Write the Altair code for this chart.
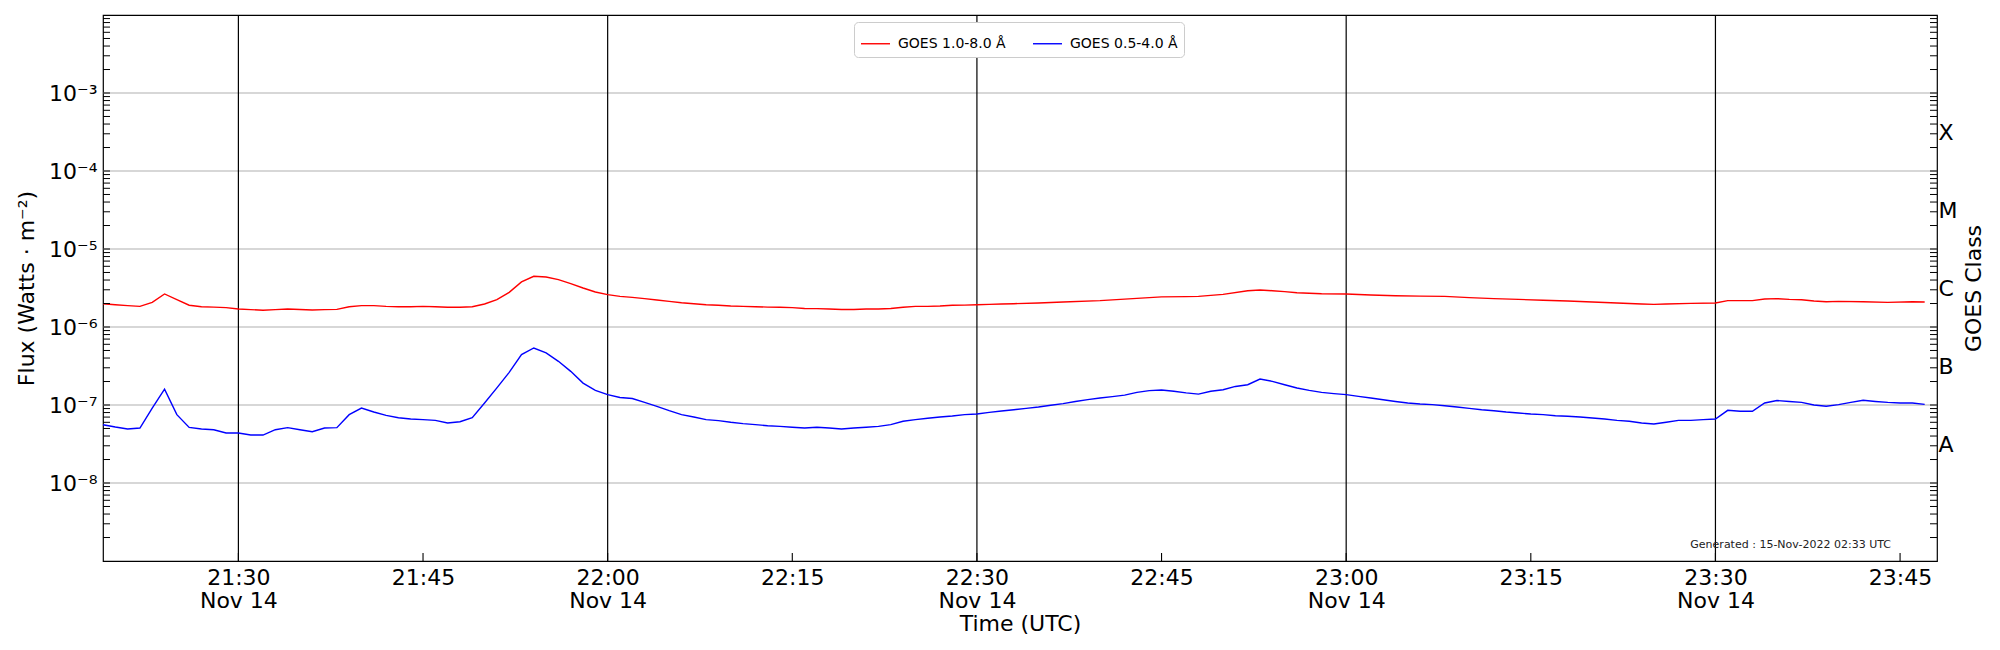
import altair as alt
import pandas as pd

DAY = "2022-11-14"

# GOES 1.0-8.0 A (red), W/m^2
red_times = ["21:19", "21:20", "21:21", "21:22", "21:23", "21:24", "21:25", "21:26", "21:27", "21:28",
             "21:29", "21:30", "21:31", "21:32", "21:33", "21:34", "21:35", "21:36", "21:37", "21:38",
             "21:39", "21:40", "21:41", "21:42", "21:43", "21:44", "21:45", "21:46", "21:47", "21:48",
             "21:49", "21:50", "21:51", "21:52", "21:53", "21:54", "21:55", "21:56", "21:57", "21:58",
             "21:59", "22:00", "22:01", "22:02", "22:03", "22:04", "22:05", "22:06", "22:07", "22:08",
             "22:09", "22:10", "22:11", "22:12", "22:13", "22:14", "22:15", "22:16", "22:17", "22:18",
             "22:19", "22:20", "22:21", "22:22", "22:23", "22:24", "22:25", "22:26", "22:27", "22:28",
             "22:29", "22:30", "22:31", "22:32", "22:33", "22:35", "22:37", "22:40", "22:43", "22:45",
             "22:47", "22:48", "22:50", "22:52", "22:53", "22:54", "22:55", "22:56", "22:58", "23:00",
             "23:02", "23:04", "23:06", "23:08", "23:10", "23:12", "23:14", "23:16", "23:18", "23:20",
             "23:22", "23:24", "23:25", "23:26", "23:28", "23:30", "23:31", "23:33", "23:34", "23:35",
             "23:36", "23:37", "23:38", "23:39", "23:40", "23:42", "23:44", "23:46", "23:47"]
red_flux = [1.99e-6, 1.93e-6, 1.88e-6, 1.84e-6, 2.07e-6, 2.65e-6, 2.24e-6, 1.90e-6, 1.82e-6, 1.80e-6,
            1.77e-6, 1.70e-6, 1.67e-6, 1.64e-6, 1.67e-6, 1.70e-6, 1.68e-6, 1.65e-6, 1.67e-6, 1.68e-6,
            1.82e-6, 1.88e-6, 1.88e-6, 1.84e-6, 1.82e-6, 1.82e-6, 1.84e-6, 1.82e-6, 1.79e-6, 1.79e-6,
            1.82e-6, 1.97e-6, 2.24e-6, 2.78e-6, 3.78e-6, 4.47e-6, 4.38e-6, 4.05e-6, 3.60e-6, 3.16e-6,
            2.81e-6, 2.60e-6, 2.47e-6, 2.40e-6, 2.31e-6, 2.22e-6, 2.13e-6, 2.05e-6, 1.99e-6, 1.93e-6,
            1.90e-6, 1.86e-6, 1.84e-6, 1.82e-6, 1.80e-6, 1.79e-6, 1.77e-6, 1.73e-6, 1.72e-6, 1.70e-6,
            1.68e-6, 1.68e-6, 1.70e-6, 1.70e-6, 1.73e-6, 1.79e-6, 1.84e-6, 1.84e-6, 1.86e-6, 1.90e-6,
            1.91e-6, 1.93e-6, 1.95e-6, 1.97e-6, 1.99e-6, 2.03e-6, 2.09e-6, 2.18e-6, 2.33e-6, 2.43e-6,
            2.45e-6, 2.47e-6, 2.62e-6, 2.92e-6, 2.98e-6, 2.92e-6, 2.84e-6, 2.75e-6, 2.67e-6, 2.65e-6,
            2.57e-6, 2.52e-6, 2.49e-6, 2.47e-6, 2.38e-6, 2.31e-6, 2.26e-6, 2.20e-6, 2.15e-6, 2.09e-6,
            2.03e-6, 1.97e-6, 1.95e-6, 1.97e-6, 2.01e-6, 2.03e-6, 2.18e-6, 2.18e-6, 2.29e-6, 2.31e-6,
            2.26e-6, 2.24e-6, 2.15e-6, 2.11e-6, 2.13e-6, 2.11e-6, 2.07e-6, 2.11e-6, 2.09e-6]

# GOES 0.5-4.0 A (blue), one value per minute from 21:19 to 23:47
blue_start = "21:19"
blue_flux = [5.59e-8, 5.22e-8, 4.92e-8, 5.07e-8, 9.12e-8, 1.60e-7, 7.52e-8, 5.16e-8, 4.92e-8, 4.82e-8,
             4.37e-8, 4.37e-8, 4.12e-8, 4.12e-8, 4.82e-8, 5.13e-8, 4.82e-8, 4.55e-8, 5.07e-8, 5.13e-8,
             7.52e-8, 9.12e-8, 8.13e-8, 7.36e-8, 6.87e-8, 6.61e-8, 6.49e-8, 6.35e-8, 5.87e-8, 6.11e-8,
             6.87e-8, 1.06e-7, 1.66e-7, 2.62e-7, 4.42e-7, 5.38e-7, 4.65e-7, 3.63e-7, 2.70e-7, 1.91e-7,
             1.54e-7, 1.36e-7, 1.25e-7, 1.21e-7, 1.08e-7, 9.62e-8, 8.45e-8, 7.52e-8, 7.01e-8, 6.49e-8,
             6.30e-8, 6.00e-8, 5.77e-8, 5.60e-8, 5.43e-8, 5.32e-8, 5.18e-8, 5.07e-8, 5.18e-8, 5.07e-8,
             4.92e-8, 5.07e-8, 5.18e-8, 5.32e-8, 5.60e-8, 6.18e-8, 6.49e-8, 6.75e-8, 7.01e-8, 7.23e-8,
             7.52e-8, 7.67e-8, 8.05e-8, 8.38e-8, 8.71e-8, 9.06e-8, 9.42e-8, 9.91e-8, 1.04e-7, 1.11e-7,
             1.17e-7, 1.23e-7, 1.28e-7, 1.34e-7, 1.45e-7, 1.53e-7, 1.56e-7, 1.50e-7, 1.43e-7, 1.38e-7,
             1.50e-7, 1.57e-7, 1.73e-7, 1.82e-7, 2.15e-7, 2.01e-7, 1.82e-7, 1.65e-7, 1.54e-7, 1.45e-7,
             1.40e-7, 1.36e-7, 1.29e-7, 1.23e-7, 1.17e-7, 1.11e-7, 1.06e-7, 1.03e-7, 1.01e-7, 9.79e-8,
             9.42e-8, 9.06e-8, 8.71e-8, 8.45e-8, 8.13e-8, 7.89e-8, 7.67e-8, 7.52e-8, 7.29e-8, 7.16e-8,
             7.01e-8, 6.81e-8, 6.62e-8, 6.35e-8, 6.18e-8, 5.87e-8, 5.70e-8, 6.00e-8, 6.35e-8, 6.35e-8,
             6.49e-8, 6.62e-8, 8.55e-8, 8.30e-8, 8.30e-8, 1.06e-7, 1.14e-7, 1.11e-7, 1.08e-7, 1.00e-7,
             9.62e-8, 1.01e-7, 1.08e-7, 1.15e-7, 1.11e-7, 1.08e-7, 1.06e-7, 1.06e-7, 1.02e-7]

series_names = ["GOES 1.0-8.0 \u00c5", "GOES 0.5-4.0 \u00c5"]
series_colors = ["#ff0000", "#0000ff"]

grid_decades = [1e-8, 1e-7, 1e-6, 1e-5, 1e-4, 1e-3]
halfhour_lines = ["21:30", "22:00", "22:30", "23:00", "23:30"]
quarter_ticks = ["21:30", "21:45", "22:00", "22:15", "22:30", "22:45", "23:00", "23:15", "23:30", "23:45"]
class_pos = [3.16e-8, 3.16e-7, 3.16e-6, 3.16e-5, 3.16e-4]
class_labels = ["A", "B", "C", "M", "X"]
generated_text = ["Generated : 15-Nov-2022 02:33 UTC"]

W, H = 1834, 546
FONT = "DejaVu Sans"


def iso(hm):
    return f"{DAY}T{hm}:00Z"


def dt(hm):
    h, m = hm.split(":")
    return alt.DateTime(year=2022, month=11, date=14, hours=int(h), minutes=int(m), utc=True)


# build tables
red_df = pd.DataFrame({"t": [iso(t) for t in red_times], "flux": red_flux, "series": series_names[0]})
b0 = pd.Timestamp(f"{DAY} {blue_start}")
blue_t = [(b0 + pd.Timedelta(minutes=i)).strftime("%H:%M") for i in range(len(blue_flux))]
blue_df = pd.DataFrame({"t": [iso(t) for t in blue_t], "flux": blue_flux, "series": series_names[1]})
lines_df = pd.concat([red_df, blue_df], ignore_index=True)

major_ticks = [10.0 ** k for k in range(-8, -2)]
minor_ticks = [m * 10.0 ** k for k in range(-9, -2) for m in range(2, 10)]
ticks_df = pd.DataFrame({"v": major_ticks + minor_ticks})

x_scale = alt.Scale(type="utc", domain=[dt("21:19"), dt("23:48")], nice=False)
y_scale = alt.Scale(type="log", domain=[1e-9, 1e-2], nice=False)

x_label_expr = ("(utcFormat(datum.value, '%M') == '00' || utcFormat(datum.value, '%M') == '30') ? "
                "[utcFormat(datum.value, '%H:%M'), utcFormat(datum.value, '%b %d')] : "
                "utcFormat(datum.value, '%H:%M')")
y_label_expr = ("'10' + ['\u207b\u2079','\u207b\u2078','\u207b\u2077','\u207b\u2076','\u207b\u2075',"
                "'\u207b\u2074','\u207b\u00b3','\u207b\u00b2'][round(log(datum.value)/LN10) + 9]")
cls_expr = "[" + ",".join(f"'{c}'" for c in class_labels) + "][round(log(datum.value)/LN10 + 7.5)]"

x_axis = alt.Axis(
    values=[dt(t) for t in quarter_ticks],
    labelExpr=x_label_expr,
    title="Time (UTC)",
    ticks=False,
    domain=False,
    grid=False,
    labelFontSize=22,
    labelLineHeight=23,
    labelPadding=6,
    labelColor="black",
    labelFont=FONT,
    titleFont=FONT,
    titleFontSize=22,
    titleFontWeight="normal",
    titleColor="black",
    titlePadding=2,
)

hgrid = alt.Chart(pd.DataFrame({"v": grid_decades})).mark_rule(color="#b0b0b0", strokeWidth=1.1).encode(
    y=alt.Y("v:Q", scale=y_scale, axis=None)
)

vlines = alt.Chart(pd.DataFrame({"t": [iso(t) for t in halfhour_lines]})).mark_rule(
    color="black", strokeWidth=1.2
).encode(x=alt.X("t:T", scale=x_scale, axis=x_axis))

xticks = alt.Chart(pd.DataFrame({"t": [iso(t) for t in quarter_ticks]})).mark_rule(
    color="black", strokeWidth=1.1
).encode(
    x=alt.X("t:T", scale=x_scale, axis=x_axis),
    y=alt.value(H - 8),
    y2=alt.value(H),
)

lines = alt.Chart(lines_df).mark_line(strokeWidth=1.4).encode(
    x=alt.X("t:T", scale=x_scale, axis=x_axis),
    y=alt.Y(
        "flux:Q",
        scale=y_scale,
        axis=alt.Axis(
            values=grid_decades,
            labelExpr=y_label_expr,
            title="Flux (Watts \u00b7 m\u207b\u00b2)",
            ticks=False,
            domain=False,
            grid=False,
            labelFontSize=22,
            labelPadding=6,
            labelColor="black",
            labelFont=FONT,
            titleFont=FONT,
            titleFontSize=22,
            titleFontWeight="normal",
            titleColor="black",
            titlePadding=10,
        ),
    ),
    color=alt.Color(
        "series:N",
        scale=alt.Scale(domain=series_names, range=series_colors),
        legend=alt.Legend(
            title=None,
            orient="none",
            legendX=751,
            legendY=7,
            direction="horizontal",
            symbolType="stroke",
            symbolSize=840,
            symbolStrokeWidth=1.4,
            labelFontSize=14,
            labelFont=FONT,
            labelOffset=7,
            columnPadding=24,
            padding=6,
            fillColor="white",
            strokeColor="#cccccc",
            cornerRadius=4,
            labelColor="black",
        ),
    ),
    detail="series:N",
)

left_ticks = alt.Chart(ticks_df).mark_rule(color="black", strokeWidth=1.0).encode(
    y=alt.Y("v:Q", scale=y_scale, axis=None),
    x=alt.value(0),
    x2=alt.value(7),
)

right_ticks = alt.Chart(ticks_df).mark_rule(color="black", strokeWidth=1.0).encode(
    y=alt.Y(
        "v:Q",
        scale=y_scale,
        axis=alt.Axis(
            orient="right",
            values=class_pos,
            labelExpr=cls_expr,
            title="GOES Class",
            titleAngle=270,
            ticks=False,
            domain=False,
            grid=False,
            labelFontSize=22,
            labelPadding=1,
            labelColor="black",
            labelFont=FONT,
            titleFont=FONT,
            titleFontSize=22,
            titleFontWeight="normal",
            titleColor="black",
            titlePadding=29,
        ),
    ),
    x=alt.value(W - 7),
    x2=alt.value(W),
)

gen = alt.Chart(pd.DataFrame({"txt": generated_text})).mark_text(
    align="right", baseline="alphabetic", fontSize=11, color="#222222", font=FONT
).encode(x=alt.value(W - 46), y=alt.value(H - 13), text="txt:N")

chart = (
    alt.layer(hgrid, vlines, xticks, lines, left_ticks, right_ticks, gen)
    .resolve_axis(y="independent")
    .properties(
        width=W,
        height=H,
        autosize=alt.AutoSizeParams(type="none"),
        padding={"left": 95, "top": 7, "right": 55, "bottom": 75},
    )
    .configure(font=FONT)
    .configure_view(stroke="black", strokeWidth=1.2)
)

chart.save("out.html", embed_options={"renderer": "svg", "actions": False})
